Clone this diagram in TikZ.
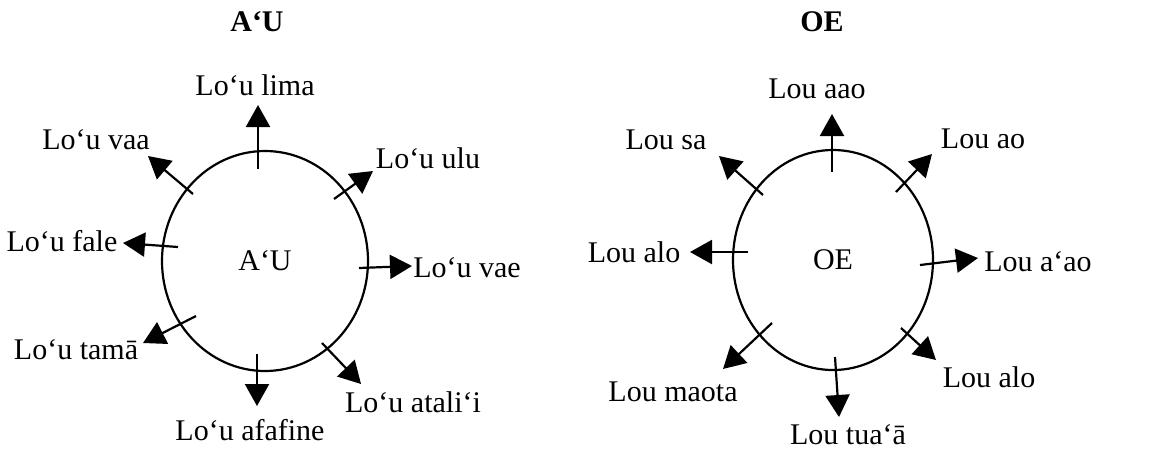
\documentclass[tikz,border=0pt]{standalone}
\usepackage{fontspec}
\setmainfont{Liberation Serif}
\usetikzlibrary{arrows.meta,shapes.geometric}

\tikzset{
  ring/.style={draw, ellipse, line width=1.1pt, inner sep=0pt},
  ray/.style={-{Triangle[length=11pt, width=12pt]}, line width=1.1pt},
  title/.style={font=\fontsize{15}{18}\selectfont\bfseries}
}

\begin{document}
\begin{tikzpicture}[x=0.5pt, y=-0.5pt, every node/.style={font=\fontsize{15}{18}\selectfont}]
        \useasboundingbox (0,0) rectangle (1158,452);

        % Titles
        \node[title] (autitle) at (257, 22) {A‘U};
        \node[title] (oetitle) at (822, 22) {OE};

        % Circles
        \node[ring, minimum width=103pt, minimum height=110pt] (au) at (265, 261) {A‘U};
        \node[ring, minimum width=100pt, minimum height=110pt] (oe) at (833, 260) {OE};

        % Left circle: arrow ends
        \coordinate (lima0) at (258, 169);    \coordinate (lima1) at (258, 105);
        \coordinate (ulu0) at (334, 199);     \coordinate (ulu1) at (373, 171);
        \coordinate (vae0) at (359, 268);     \coordinate (vae1) at (412, 266);
        \coordinate (atalii0) at (322, 343);  \coordinate (atalii1) at (361, 384);
        \coordinate (afafine0) at (257, 354); \coordinate (afafine1) at (257, 406);
        \coordinate (tama0) at (196, 316);    \coordinate (tama1) at (143, 343);
        \coordinate (fale0) at (178, 247);    \coordinate (fale1) at (123, 243);
        \coordinate (vaa0) at (193, 194);     \coordinate (vaa1) at (148, 156);

        % Left circle: labels
        \node (lima) at (255, 85) {Lo‘u lima};
        \node (ulu) at (428, 158) {Lo‘u ulu};
        \node (vae) at (467, 268) {Lo‘u vae};
        \node (atalii) at (413, 402) {Lo‘u atali‘i};
        \node (afafine) at (250, 430) {Lo‘u afafine};
        \node (tama) at (76, 350) {Lo‘u tamā};
        \node (fale) at (62, 241) {Lo‘u fale};
        \node (vaa) at (96, 140) {Lo‘u vaa};

        % Right circle: arrow ends
        \coordinate (aao0) at (832, 172);     \coordinate (aao1) at (832, 114);
        \coordinate (ao0) at (896, 192);      \coordinate (ao1) at (932, 154);
        \coordinate (aoao0) at (920, 265);    \coordinate (aoao1) at (978, 258);
        \coordinate (aloright0) at (901, 328); \coordinate (aloright1) at (936, 360);
        \coordinate (tuaa0) at (835, 357);    \coordinate (tuaa1) at (839, 417);
        \coordinate (maota0) at (772, 323);   \coordinate (maota1) at (723, 369);
        \coordinate (aloleft0) at (748, 252); \coordinate (aloleft1) at (690, 252);
        \coordinate (sa0) at (763, 195);      \coordinate (sa1) at (719, 156);

        % Right circle: labels
        \node (aao) at (817, 89) {Lou aao};
        \node (ao) at (983, 139) {Lou ao};
        \node (aoao) at (1038, 262) {Lou a‘ao};
        \node (aloright) at (989, 377) {Lou alo};
        \node (tuaa) at (848, 435) {Lou tua‘ā};
        \node (maota) at (673, 392) {Lou maota};
        \node (aloleft) at (634, 252) {Lou alo};
        \node (sa) at (666, 140) {Lou sa};

        % Arrows
        \draw[ray] (lima0) -- (lima1);
        \draw[ray] (ulu0) -- (ulu1);
        \draw[ray] (vae0) -- (vae1);
        \draw[ray] (atalii0) -- (atalii1);
        \draw[ray] (afafine0) -- (afafine1);
        \draw[ray] (tama0) -- (tama1);
        \draw[ray] (fale0) -- (fale1);
        \draw[ray] (vaa0) -- (vaa1);

        \draw[ray] (aao0) -- (aao1);
        \draw[ray] (ao0) -- (ao1);
        \draw[ray] (aoao0) -- (aoao1);
        \draw[ray] (aloright0) -- (aloright1);
        \draw[ray] (tuaa0) -- (tuaa1);
        \draw[ray] (maota0) -- (maota1);
        \draw[ray] (aloleft0) -- (aloleft1);
        \draw[ray] (sa0) -- (sa1);
\end{tikzpicture}
\end{document}
